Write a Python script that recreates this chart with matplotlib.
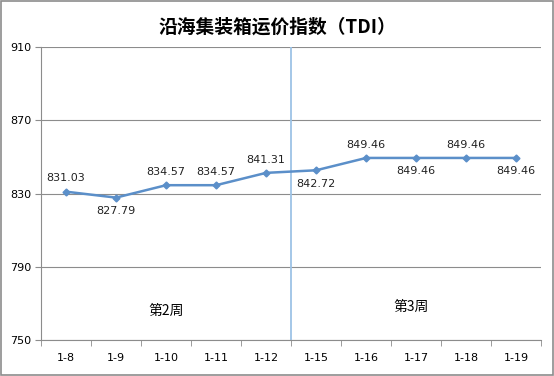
import matplotlib
matplotlib.use("Agg")
import matplotlib.pyplot as plt
import numpy as np
from matplotlib.patches import Rectangle

plt.rcParams['font.family'] = ['Noto Sans CJK SC', 'DejaVu Sans']

dates = ['1-8', '1-9', '1-10', '1-11', '1-12', '1-15', '1-16', '1-17', '1-18', '1-19']
values = [831.03, 827.79, 834.57, 834.57, 841.31, 842.72, 849.46, 849.46, 849.46, 849.46]
label_above = [True, False, True, True, True, False, True, False, True, False]
yticks = [750, 790, 830, 870, 910]
title = '沿海集装箱运价指数（TDI）'
week_labels = ['第2周', '第3周']

fig = plt.figure(figsize=(5.54, 3.76), dpi=100)
ax = fig.add_axes([0.074, 0.0957, 0.903, 0.779])

x = np.arange(len(dates))
line_color = '#5B8FC9'
ax.plot(x, values, color=line_color, lw=1.8, marker='D', ms=3.5, zorder=3)

for xi, v, up in zip(x, values, label_above):
    ax.annotate(f'{v:.2f}', (xi, v), xytext=(0, 6 if up else -6), textcoords='offset points',
                ha='center', va='bottom' if up else 'top', fontsize=8, color='#222222',
                family='DejaVu Sans')

ax.set_xlim(-0.5, len(dates) - 0.5)
ax.set_ylim(750, 910)
ax.set_yticks(yticks)
ax.set_yticklabels([str(t) for t in yticks], fontsize=8, family='DejaVu Sans')
ax.yaxis.grid(True, color='#8C8C8C', lw=0.8)
ax.set_axisbelow(True)

ax.set_xticks(x)
ax.set_xticklabels(dates, fontsize=8, family='DejaVu Sans')
ax.set_xticks(np.arange(-0.5, len(dates)), minor=True)
ax.tick_params(axis='x', which='major', length=0, pad=9)
ax.tick_params(axis='x', which='minor', length=4, color='#8C8C8C', direction='out')
ax.tick_params(axis='y', length=4, color='#8C8C8C', direction='out', pad=3)

for s in ['top', 'right']:
    ax.spines[s].set_visible(False)
for s in ['left', 'bottom']:
    ax.spines[s].set_color('#8C8C8C')
    ax.spines[s].set_linewidth(0.8)

ax.axvline(4.5, color='#9DC3E6', lw=1.3, zorder=2)

ax.text(2.0, 766, week_labels[0], ha='center', va='center', fontsize=10)
ax.text(6.9, 768, week_labels[1], ha='center', va='center', fontsize=10)

fig.text(0.5, 0.928, title, ha='center', va='center', fontsize=13.5, fontweight='bold')

fig.patches.append(Rectangle((0.002, 0.003), 0.996, 0.994, transform=fig.transFigure,
                             fill=False, edgecolor='#8C8C8C', lw=1.2))

fig.savefig('out.png', dpi=100)
